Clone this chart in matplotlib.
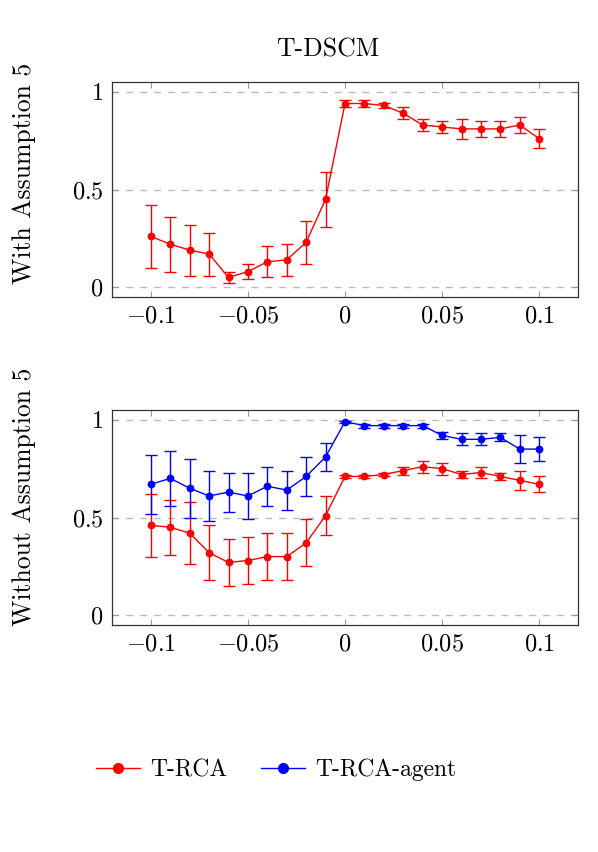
import matplotlib
matplotlib.use("Agg")
import matplotlib.pyplot as plt
from matplotlib.lines import Line2D

plt.rcParams['font.family'] = ['cmr10', 'DejaVu Serif']
plt.rcParams['mathtext.fontset'] = 'cm'
plt.rcParams['axes.formatter.use_mathtext'] = True

x = [-0.1, -0.09, -0.08, -0.07, -0.06, -0.05, -0.04, -0.03, -0.02, -0.01,
     0.0, 0.01, 0.02, 0.03, 0.04, 0.05, 0.06, 0.07, 0.08, 0.09, 0.1]

# Top panel: With Assumption 5 (T-RCA)
top_rca = [0.26, 0.22, 0.19, 0.17, 0.05, 0.08, 0.13, 0.14, 0.23, 0.45,
           0.94, 0.94, 0.93, 0.89, 0.83, 0.82, 0.81, 0.81, 0.81, 0.83, 0.76]
top_rca_err = [0.16, 0.14, 0.13, 0.11, 0.03, 0.04, 0.08, 0.08, 0.11, 0.14,
               0.02, 0.02, 0.015, 0.03, 0.03, 0.03, 0.05, 0.04, 0.04, 0.04, 0.05]

# Bottom panel: Without Assumption 5
bot_rca = [0.46, 0.45, 0.42, 0.32, 0.27, 0.28, 0.30, 0.30, 0.37, 0.51,
           0.71, 0.71, 0.72, 0.74, 0.76, 0.75, 0.72, 0.73, 0.71, 0.69, 0.67]
bot_rca_err = [0.16, 0.14, 0.16, 0.14, 0.12, 0.12, 0.12, 0.12, 0.12, 0.10,
               0.01, 0.01, 0.01, 0.02, 0.03, 0.03, 0.02, 0.03, 0.02, 0.05, 0.04]
bot_agent = [0.67, 0.70, 0.65, 0.61, 0.63, 0.61, 0.66, 0.64, 0.71, 0.81,
             0.99, 0.97, 0.97, 0.97, 0.97, 0.92, 0.90, 0.90, 0.91, 0.85, 0.85]
bot_agent_err = [0.15, 0.14, 0.15, 0.13, 0.10, 0.12, 0.10, 0.10, 0.10, 0.07,
                 0.005, 0.01, 0.01, 0.01, 0.01, 0.02, 0.03, 0.03, 0.02, 0.07, 0.06]

xticks = [-0.1, -0.05, 0.0, 0.05, 0.1]
xticklabels = [r'$-0.1$', r'$-0.05$', r'$0$', r'$0.05$', r'$0.1$']
yticks = [0, 0.5, 1]
yticklabels = [r'$0$', r'$0.5$', r'$1$']

series_names = ['T-RCA', 'T-RCA-agent']
colors = ['red', 'blue']
panel_labels = ['With Assumption 5', 'Without Assumption 5']

fig = plt.figure(figsize=(5.98, 8.52), dpi=100)
W, H = 598, 852
ax1 = fig.add_axes([112 / W, 1 - 297 / H, 466 / W, 215 / H])
ax2 = fig.add_axes([112 / W, 1 - 625 / H, 466 / W, 215 / H])


def draw(ax, y, e, c):
    ax.errorbar(x, y, yerr=e, color=c, ecolor=c, elinewidth=1.0, capsize=4,
                capthick=1.0, marker='o', markersize=4.6, linewidth=1.0, zorder=3)


def style(ax):
    ax.set_xlim(-0.12, 0.12)
    ax.set_ylim(-0.05, 1.05)
    ax.set_xticks(xticks)
    ax.set_xticklabels(xticklabels)
    ax.set_yticks(yticks)
    ax.set_yticklabels(yticklabels)
    ax.tick_params(direction='in', length=4, width=0.8, color='#999999',
                   top=True, right=True, labelsize=17.5, pad=6, labelcolor='black')
    for sp in ax.spines.values():
        sp.set_color('#333333')
        sp.set_linewidth(0.9)
    ax.yaxis.grid(True, linestyle=(0, (5, 5)), color='#bbbbbb', linewidth=1.0)
    ax.set_axisbelow(True)


draw(ax1, top_rca, top_rca_err, colors[0])
style(ax1)

draw(ax2, bot_rca, bot_rca_err, colors[0])
draw(ax2, bot_agent, bot_agent_err, colors[1])
style(ax2)

fig.text(24 / W, 1 - 173 / H, panel_labels[0], rotation=90, ha='center', va='center',
         fontsize=18.5)
fig.text(24 / W, 1 - 497 / H, panel_labels[1], rotation=90, ha='center', va='center',
         fontsize=18.5)

fig.text(328 / W, 1 - 50 / H, 'T-DSCM', ha='center', va='center', fontsize=18.5)

handles = [Line2D([0], [0], color=c, marker='o', markersize=7, linewidth=1.0)
           for c in colors]
fig.legend(handles, series_names, loc='center', bbox_to_anchor=(276 / W, 1 - 770 / H),
           ncol=2, frameon=False, fontsize=17, handlelength=1.85, columnspacing=1.45,
           handletextpad=0.42)

fig.savefig('out.png', dpi=100)
